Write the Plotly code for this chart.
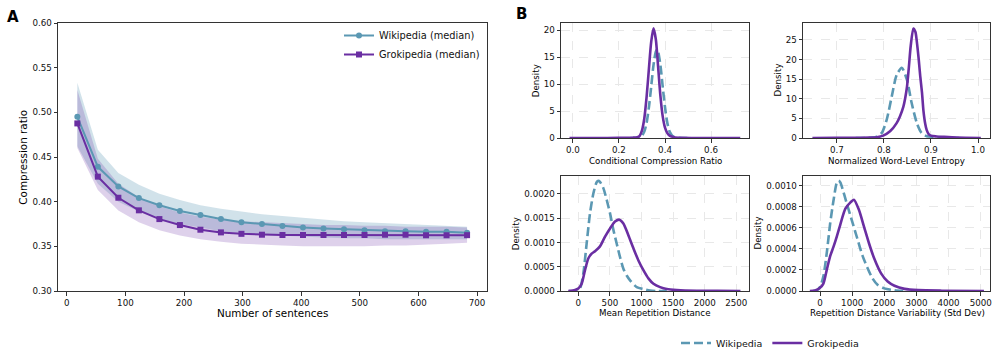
import plotly.graph_objects as go

W, H = 997, 359

# ---------------- Panel A data ----------------
n_sentences = [18, 53, 88, 123, 158, 193, 228, 263, 298, 333, 368, 403, 438, 473, 508, 543, 578, 613, 648, 683]
wiki_median = [0.495, 0.439, 0.417, 0.404, 0.396, 0.3895, 0.385, 0.3805, 0.377, 0.375, 0.3727, 0.3712, 0.370,
               0.369, 0.368, 0.367, 0.3668, 0.3664, 0.3664, 0.3652]
grok_median = [0.4876, 0.428, 0.4044, 0.3903, 0.3805, 0.3738, 0.3686, 0.3656, 0.364, 0.363, 0.3627, 0.3627,
               0.3627, 0.3627, 0.3627, 0.363, 0.363, 0.3624, 0.3624, 0.3625]
wiki_upper = [0.533, 0.458, 0.432, 0.419, 0.409, 0.402, 0.396, 0.392, 0.389, 0.386, 0.384, 0.382, 0.380, 0.378,
              0.377, 0.376, 0.375, 0.374, 0.373, 0.372]
wiki_lower = [0.462, 0.420, 0.400, 0.389, 0.381, 0.375, 0.371, 0.367, 0.365, 0.363, 0.362, 0.361, 0.360, 0.359,
              0.359, 0.358, 0.358, 0.358, 0.358, 0.358]
grok_upper = [0.525, 0.448, 0.420, 0.405, 0.395, 0.388, 0.383, 0.380, 0.378, 0.377, 0.376, 0.375, 0.374, 0.374,
              0.373, 0.373, 0.372, 0.372, 0.372, 0.371]
grok_lower = [0.460, 0.413, 0.390, 0.377, 0.368, 0.362, 0.358, 0.355, 0.353, 0.352, 0.351, 0.350, 0.350, 0.350,
              0.350, 0.351, 0.351, 0.352, 0.353, 0.354]

# ---------------- Panel B data (density curves) ----------------
ccr_wiki_x = [0.25, 0.28, 0.29, 0.30, 0.31, 0.32, 0.33, 0.34, 0.35, 0.36, 0.365, 0.37, 0.38, 0.39, 0.40, 0.41,
              0.42, 0.43, 0.44, 0.46, 0.50]
ccr_wiki_y = [0.0, 0.05, 0.13, 0.42, 1.18, 2.8, 5.7, 9.5, 13.5, 16.0, 16.4, 16.0, 13.5, 9.5, 5.7, 2.8,
              1.18, 0.5, 0.2, 0.05, 0.0]
ccr_grok_x = [-0.015, 0.1, 0.2, 0.26, 0.28, 0.29, 0.30, 0.31, 0.32, 0.33, 0.34, 0.35, 0.36, 0.37, 0.38, 0.39,
              0.40, 0.41, 0.42, 0.44, 0.47, 0.55, 0.727]
ccr_grok_y = [0.0, 0.0, 0.02, 0.06, 0.15, 0.4, 1.4, 3.6, 7.6, 12.8, 17.8, 20.3, 18.3, 13.2, 7.8, 4.0,
              1.9, 0.9, 0.45, 0.15, 0.05, 0.01, 0.0]

ent_wiki_x = [0.74, 0.765, 0.775, 0.785, 0.7955, 0.806, 0.8167, 0.827, 0.838, 0.849, 0.859, 0.870, 0.880,
              0.891, 0.905, 0.93, 0.96]
ent_wiki_y = [0.0, 0.02, 0.1, 0.35, 1.3, 4.7, 10.6, 16.0, 17.9, 14.8, 8.9, 3.8, 1.3, 0.45, 0.3, 0.1, 0.0]
ent_grok_x = [0.648, 0.70, 0.75, 0.77, 0.785, 0.7985, 0.813, 0.827, 0.834, 0.8414, 0.845, 0.849, 0.853, 0.857,
              0.8626, 0.867, 0.870, 0.874, 0.877, 0.881, 0.884, 0.888, 0.891, 0.895, 0.90, 0.912, 0.925, 0.955,
              1.006]
ent_grok_y = [0.0, 0.02, 0.05, 0.1, 0.2, 0.6, 1.7, 3.8, 5.5, 8.0, 10.0, 13.0, 18.0, 23.5,
              27.9, 27.0, 24.5, 20.0, 16.0, 11.5, 7.0, 3.5, 2.0, 1.0, 0.6, 0.4, 0.3, 0.1,
              0.0]

mrd_wiki_x = [-150, -26, 26, 79, 132, 185, 238, 290, 317, 343, 396, 449, 502, 555, 607, 660, 713, 766, 819,
              924, 1030, 1136, 1241, 1400]
mrd_wiki_y = [0.0, 0.0, 0.00005, 0.00036, 0.00098, 0.0016, 0.00201, 0.00224, 0.00227, 0.00225, 0.00212,
              0.00188, 0.0016, 0.00126, 0.00098, 0.0007, 0.00046, 0.00032, 0.00022, 0.00008, 0.00004,
              0.00001, 0.0, 0.0]
mrd_grok_x = [-158, -53, 0, 53, 106, 158, 211, 264, 343, 423, 502, 581, 650, 713, 792, 872, 951, 1030, 1109,
              1189, 1294, 1400, 1558, 1875, 2200, 2566]
mrd_grok_y = [0.0, 0.00002, 0.00005, 0.00015, 0.00043, 0.00067, 0.00077, 0.00082, 0.00092, 0.00112, 0.00129,
              0.00143, 0.00147, 0.00139, 0.00115, 0.00088, 0.00063, 0.00043, 0.00026, 0.00015, 0.00008,
              0.00004, 0.00002, 0.000005, 0.000002, 0.0]

rdv_wiki_x = [-210, -105, 0, 105, 210, 316, 421, 526, 580, 632, 737, 842, 1000, 1158, 1316, 1474, 1632, 1789,
              2000, 2316, 2700]
rdv_wiki_y = [0.0, 0.000005, 0.00004, 0.00014, 0.00036, 0.00064, 0.00086, 0.00103, 0.001045, 0.00103,
              0.00093, 0.00082, 0.00066, 0.0005, 0.00034, 0.00022, 0.00012, 0.00006, 0.000025, 0.000008, 0.0]
rdv_grok_x = [-316, -158, 0, 105, 210, 316, 421, 526, 632, 789, 947, 1053, 1210, 1368, 1526, 1684, 1895, 2105,
              2316, 2632, 3053, 3790, 5100]
rdv_grok_y = [0.0, 0.000005, 0.00003, 0.00007, 0.0002, 0.00033, 0.00042, 0.00052, 0.00063, 0.00078, 0.00084,
              0.000865, 0.00077, 0.00061, 0.00045, 0.00031, 0.00017, 0.00009, 0.00005, 0.00002, 0.000008,
              0.000003, 0.0]

# ---------------- Styling ----------------
BLUE = "#5B98B3"
PURPLE = "#6A2EA2"
FONT = "DejaVu Sans"
AX = "#333333"


def px_x(p):
    return p / W


def px_y(p):
    return 1 - p / H


fig = go.Figure()

# Panel A bands
fig.add_trace(go.Scatter(x=n_sentences + n_sentences[::-1], y=wiki_upper + wiki_lower[::-1],
                         fill="toself", fillcolor="rgba(91,152,179,0.28)", line=dict(width=0),
                         mode="lines", hoverinfo="skip", showlegend=False, xaxis="x", yaxis="y"))
fig.add_trace(go.Scatter(x=n_sentences + n_sentences[::-1], y=grok_upper + grok_lower[::-1],
                         fill="toself", fillcolor="rgba(106,46,162,0.22)", line=dict(width=0),
                         mode="lines", hoverinfo="skip", showlegend=False, xaxis="x", yaxis="y"))
fig.add_trace(go.Scatter(x=n_sentences, y=wiki_median, mode="lines+markers", name="Wikipedia (median)",
                         line=dict(color=BLUE, width=2), marker=dict(symbol="circle", size=6, color=BLUE),
                         legend="legend", xaxis="x", yaxis="y"))
fig.add_trace(go.Scatter(x=n_sentences, y=grok_median, mode="lines+markers", name="Grokipedia (median)",
                         line=dict(color=PURPLE, width=2), marker=dict(symbol="square", size=6, color=PURPLE),
                         legend="legend", xaxis="x", yaxis="y"))

# Panel B curves
curves = [
    ("x2", "y2", ccr_wiki_x, ccr_wiki_y, ccr_grok_x, ccr_grok_y, True),
    ("x3", "y3", ent_wiki_x, ent_wiki_y, ent_grok_x, ent_grok_y, False),
    ("x4", "y4", mrd_wiki_x, mrd_wiki_y, mrd_grok_x, mrd_grok_y, False),
    ("x5", "y5", rdv_wiki_x, rdv_wiki_y, rdv_grok_x, rdv_grok_y, False),
]
for xa, ya, wx, wy, gx, gy, show in curves:
    fig.add_trace(go.Scatter(x=wx, y=wy, mode="lines", name="Wikipedia",
                             line=dict(color=BLUE, width=2.6, dash="9px,4px", shape="spline", smoothing=0.7),
                             showlegend=show, legend="legend2", xaxis=xa, yaxis=ya))
for xa, ya, wx, wy, gx, gy, show in curves:
    fig.add_trace(go.Scatter(x=gx, y=gy, mode="lines", name="Grokipedia",
                             line=dict(color=PURPLE, width=2.6, shape="spline", smoothing=0.7),
                             showlegend=show, legend="legend2", xaxis=xa, yaxis=ya))

tickfont = dict(family=FONT, size=8.7, color="#111")


def axis_common(**kw):
    d = dict(showline=True, mirror=True, linecolor=AX, linewidth=1, ticks="outside", ticklen=3.5,
             tickwidth=0.8, tickcolor=AX, tickfont=tickfont, zeroline=False, automargin=False)
    d.update(kw)
    return d


grid = dict(showgrid=True, gridcolor="#e8e8e8", griddash="dash", gridwidth=0.8)

# domains
dA_x = [px_x(58), px_x(487)]
dA_y = [px_y(291), px_y(23)]
dL_x = [px_x(561), px_x(749)]
dR_x = [px_x(803), px_x(990)]
dT_y = [px_y(138), px_y(23)]
dB_y = [px_y(291), px_y(176)]

fig.update_layout(
    xaxis=axis_common(domain=dA_x, range=[-15, 717], dtick=100, tick0=0, showgrid=False, anchor="y"),
    yaxis=axis_common(domain=dA_y, range=[0.30, 0.60], dtick=0.05, tick0=0.3, tickformat=".2f",
                      showgrid=False, anchor="x"),
    xaxis2=axis_common(domain=dL_x, range=[-0.052, 0.765], dtick=0.2, tick0=0, tickformat=".1f",
                       anchor="y2", **grid),
    yaxis2=axis_common(domain=dT_y, range=[0, 21.3], dtick=5, tick0=0, anchor="x2", **grid),
    xaxis3=axis_common(domain=dR_x, range=[0.628, 1.0255], dtick=0.1, tick0=0, tickformat=".1f",
                       anchor="y3", **grid),
    yaxis3=axis_common(domain=dT_y, range=[0, 29.3], dtick=5, tick0=0, anchor="x3", **grid),
    xaxis4=axis_common(domain=dL_x, range=[-274, 2701], dtick=500, tick0=0, anchor="y4", **grid),
    yaxis4=axis_common(domain=dB_y, range=[0, 0.00237], dtick=0.0005, tick0=0, tickformat=".4f",
                       anchor="x4", **grid),
    xaxis5=axis_common(domain=dR_x, range=[-529, 5288], dtick=1000, tick0=0, anchor="y5", **grid),
    yaxis5=axis_common(domain=dB_y, range=[0, 0.00109], dtick=0.0002, tick0=0, tickformat=".4f",
                       anchor="x5", **grid),
    width=W, height=H,
    margin=dict(l=0, r=0, t=0, b=0),
    paper_bgcolor="white", plot_bgcolor="white",
    font=dict(family=FONT, color="#111"),
    legend=dict(x=px_x(339), y=px_y(21), xanchor="left", yanchor="top", bgcolor="rgba(255,255,255,0)",
                font=dict(family=FONT, size=9.8, color="#111"), tracegroupgap=0, itemwidth=30),
    legend2=dict(x=px_x(676), y=px_y(343), xanchor="left", yanchor="middle", orientation="h",
                 bgcolor="rgba(255,255,255,0)", font=dict(family=FONT, size=9.5, color="#111"),
                 itemwidth=30),
)

ann = []


def text(x, y, s, size, angle=0, bold=False):
    ann.append(dict(x=px_x(x), y=px_y(y), xref="paper", yref="paper", text=("<b>%s</b>" % s) if bold else s,
                    showarrow=False, xanchor="center", yanchor="middle", textangle=angle,
                    font=dict(family=FONT, size=size, color="#000")))


text(12.5, 17, "A", 15, bold=True)
text(521, 14, "B", 15, bold=True)
text(272.5, 313, "Number of sentences", 10.4)
text(22.7, 157, "Compression ratio", 10.4, angle=-90)
text(655, 160.7, "Conditional Compression Ratio", 8.7)
text(896.7, 160.7, "Normalized Word-Level Entropy", 8.7)
text(655.3, 312.7, "Mean Repetition Distance", 8.7)
text(897, 312.7, "Repetition Distance Variability (Std Dev)", 8.7)
text(536.7, 80.5, "Density", 8.7, angle=-90)
text(778, 80.5, "Density", 8.7, angle=-90)
text(516.7, 233.5, "Density", 8.7, angle=-90)
text(758, 233.5, "Density", 8.7, angle=-90)
fig.update_layout(annotations=ann)

fig.write_html("out.html", config={"displayModeBar": False},
               post_script="document.body.style.margin='0';document.body.style.padding='0';"
                           "document.body.style.overflow='hidden';")
